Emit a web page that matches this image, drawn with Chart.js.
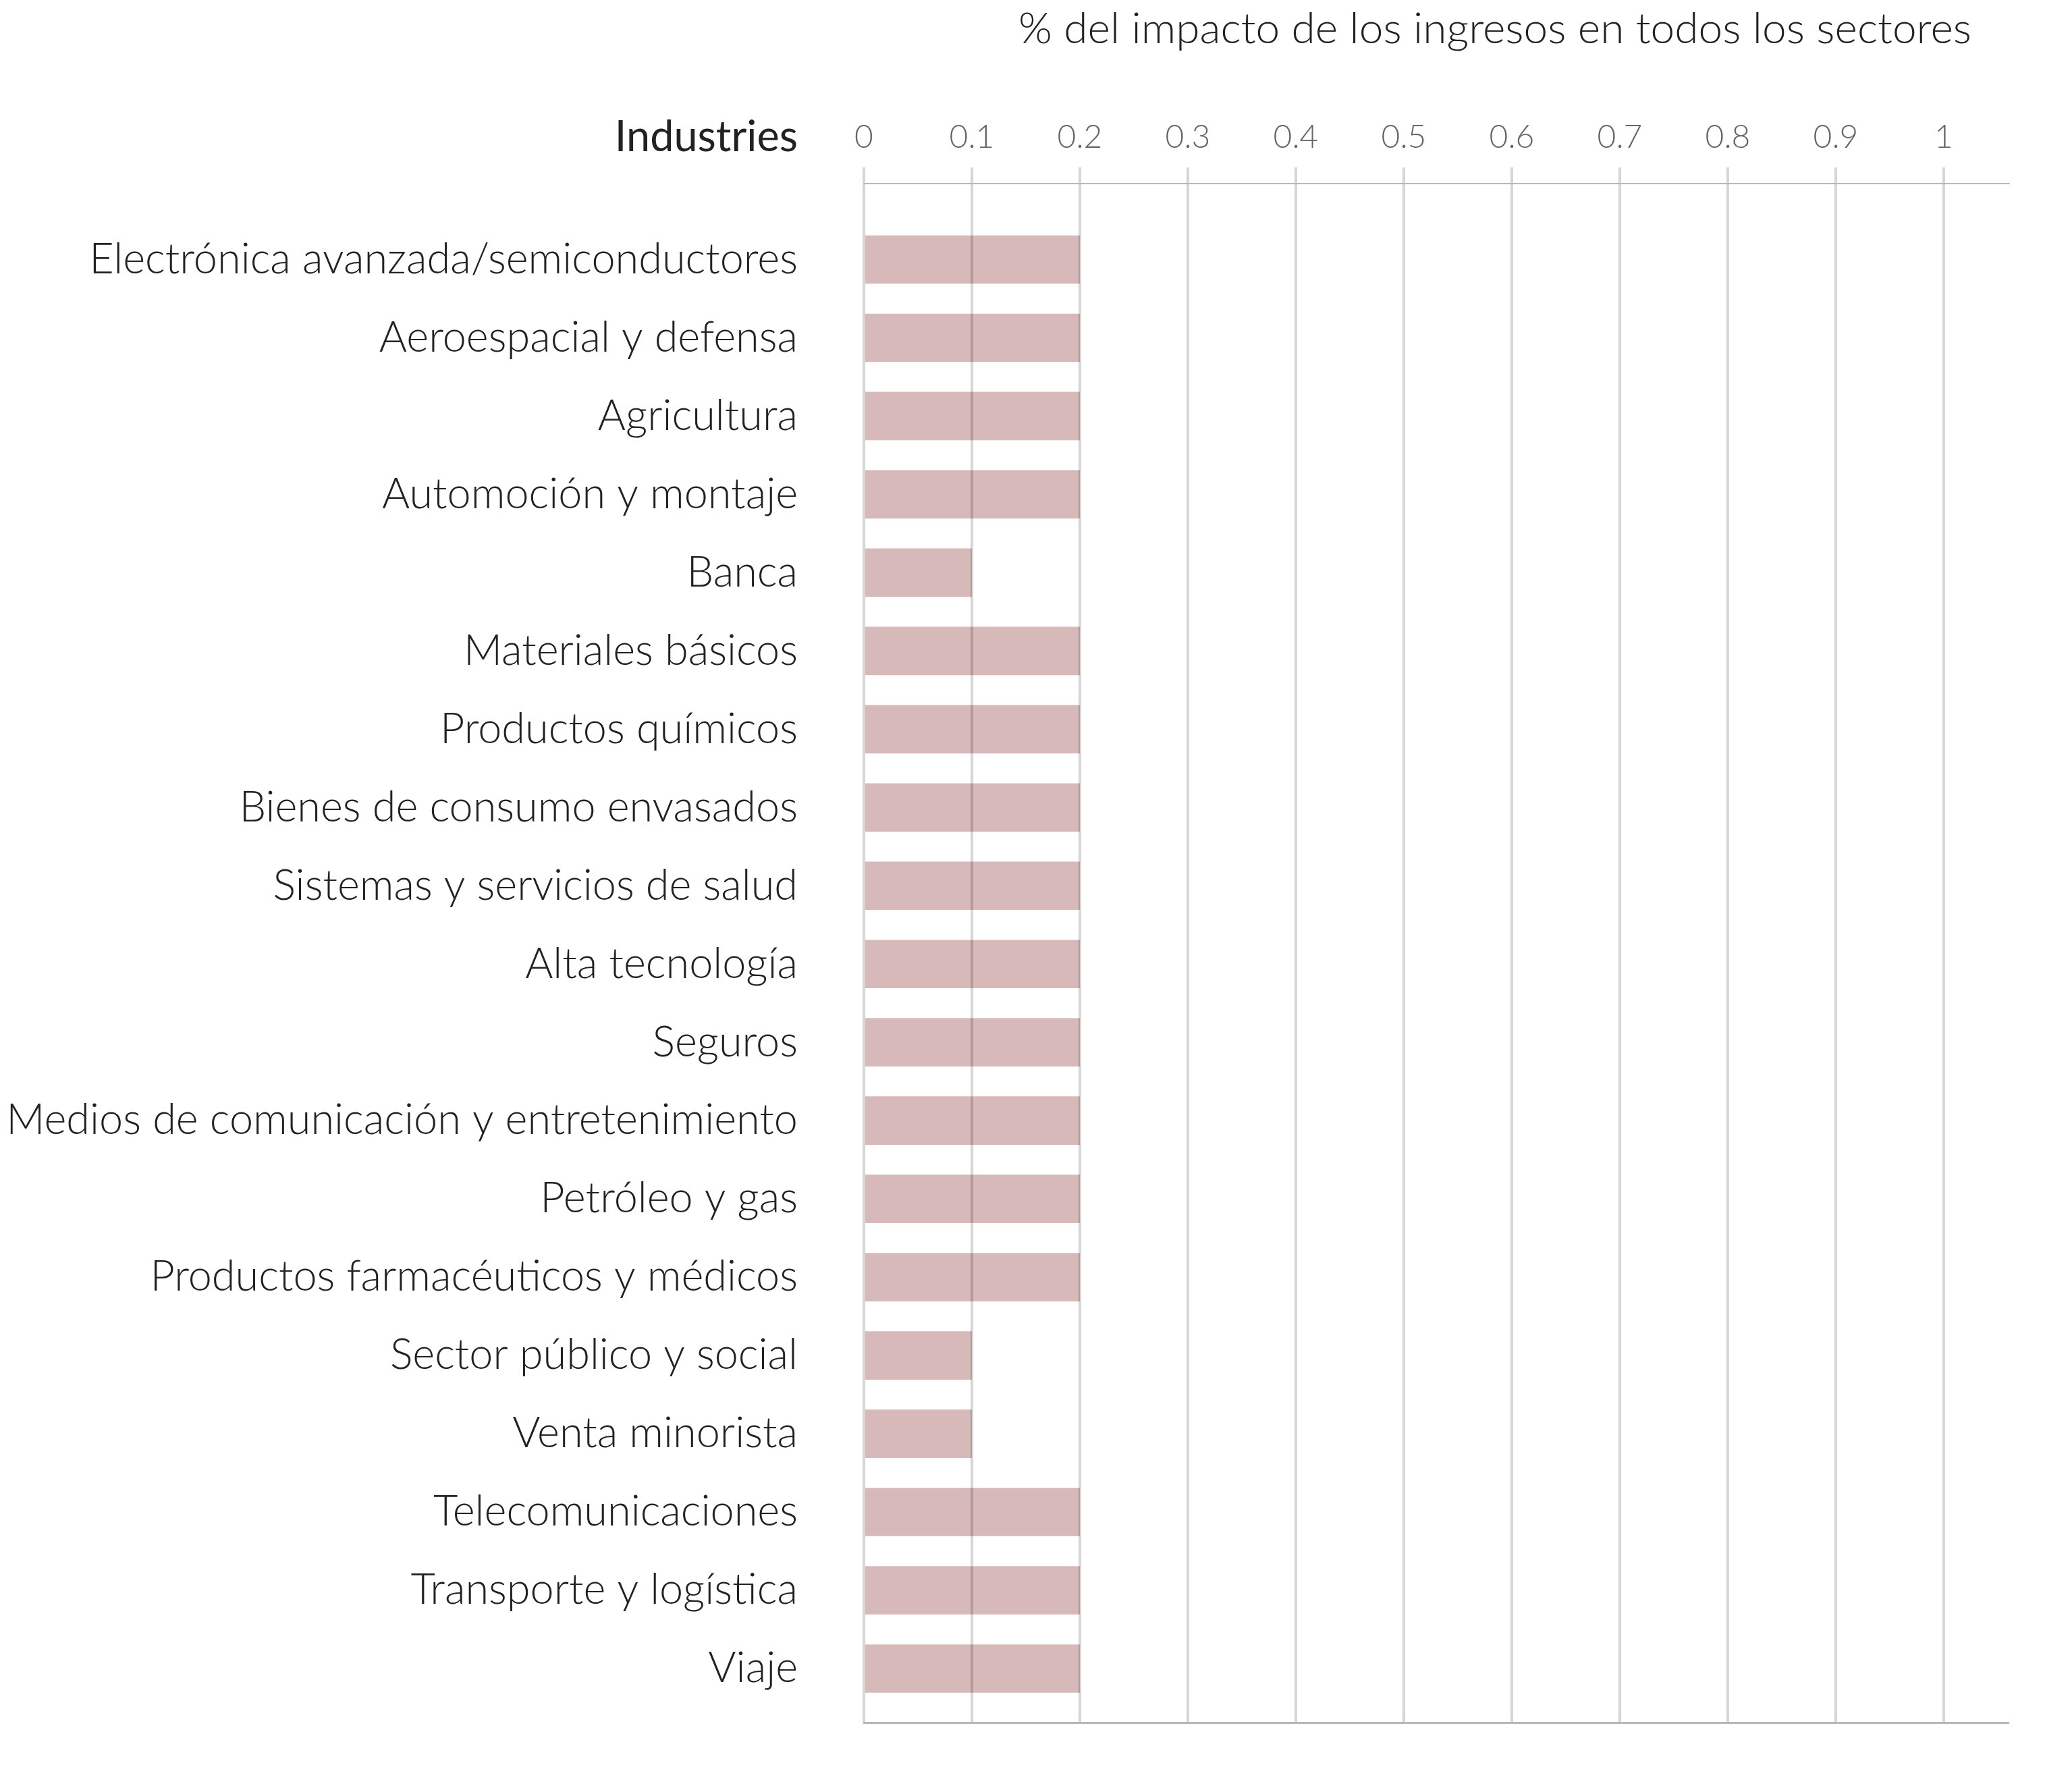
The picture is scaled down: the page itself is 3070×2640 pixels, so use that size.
<!DOCTYPE html>
<html>
<head>
<meta charset="utf-8">
<title>Impacto de los ingresos por sector</title>
<script src="https://cdn.jsdelivr.net/npm/chart.js@4.4.1/dist/chart.umd.min.js"></script>
<style>
  html, body { margin: 0; padding: 0; background: #fff; }
  #chart { display: block; }
</style>
</head>
<body>
<canvas id="chart" width="3070" height="2640"></canvas>
<script>
// ---- Data ----
const industries = [
    'Electrónica avanzada/semiconductores',
    'Aeroespacial y defensa',
    'Agricultura',
    'Automoción y montaje',
    'Banca',
    'Materiales básicos',
    'Productos químicos',
    'Bienes de consumo envasados',
    'Sistemas y servicios de salud',
    'Alta tecnología',
    'Seguros',
    'Medios de comunicación y entretenimiento',
    'Petróleo y gas',
    'Productos farmacéuticos y médicos',
    'Sector público y social',
    'Venta minorista',
    'Telecomunicaciones',
    'Transporte y logística',
    'Viaje'
];
const impact = [0.2, 0.2, 0.2, 0.2, 0.1, 0.2, 0.2, 0.2, 0.2, 0.2, 0.2, 0.2, 0.2, 0.2, 0.1, 0.1, 0.2, 0.2, 0.2];
const xTicks = [0, 0.1, 0.2, 0.3, 0.4, 0.5, 0.6, 0.7, 0.8, 0.9, 1];

const titleText = '% del impacto de los ingresos en todos los sectores';
const rowHeader = 'Industries';

const FONT = 'Lato, "Open Sans", sans-serif';
const GRID = 'rgba(0,0,0,0.16)';
const AXIS = '#b8b8b8';

// ---- Header texts (title + "Industries") ----
const headerText = {
    id: 'headerText',
    afterDraw(chart) {
        const ctx = chart.ctx;
        const y = chart.scales.y;
        ctx.save();
        ctx.fillStyle = '#222';
        ctx.textAlign = 'right';
        ctx.textBaseline = 'alphabetic';
        ctx.font = '300 64px ' + FONT;
        ctx.fillText(titleText, chart.chartArea.right - 55, 64);
        ctx.font = '400 63px ' + FONT;
        ctx.fillText(rowHeader, y.right - 98, 224);
        ctx.restore();
    }
};

// ---- Chart ----
new Chart(document.getElementById('chart'), {
    type: 'bar',
    data: {
        datasets: [{
            data: impact.map((v, i) => ({ x: v, y: i })),
            backgroundColor: '#d7b9b9',
            borderWidth: 0,
            categoryPercentage: 1,
            barPercentage: 0.618
        }]
    },
    options: {
        indexAxis: 'y',
        responsive: false,
        devicePixelRatio: 1,
        animation: false,
        layout: { padding: { top: 0, left: 0, bottom: 0, right: 94 } },
        plugins: {
            legend: { display: false },
            tooltip: { enabled: false }
        },
        scales: {
            x: {
                type: 'linear',
                position: 'top',
                min: 0,
                max: 1.06,
                afterFit: s => { s.height = 272; },
                afterBuildTicks: s => { s.ticks = xTicks.map(v => ({ value: v })); },
                // gridlines sit on top of the bars, as in the original
                grid: { z: 1, color: GRID, lineWidth: 4, tickLength: 24, tickColor: GRID },
                border: { z: 1, color: AXIS, width: 2 },
                ticks: {
                    color: '#666',
                    padding: 16,
                    font: { family: FONT, size: 48, weight: 300 },
                    callback: v => String(v)
                }
            },
            x2: {
                type: 'linear',
                axis: 'x',
                position: 'bottom',
                min: 0,
                max: 1.06,
                afterFit: s => { s.height = 88; },
                grid: { display: false, drawTicks: false },
                ticks: { display: false },
                border: { z: 1, color: AXIS, width: 3 }
            },
            y: {
                type: 'linear',
                reverse: true,
                offset: false,
                min: -0.97,
                max: 18.69,
                afterFit: s => { s.width = 1280; },
                afterBuildTicks: s => { s.ticks = industries.map((_, i) => ({ value: i })); },
                grid: { display: false, drawTicks: true, tickLength: 90 },
                border: { display: false },
                ticks: {
                    color: '#222',
                    padding: 8,
                    font: { family: FONT, size: 63, weight: 300 },
                    callback: v => industries[v]
                }
            }
        }
    },
    plugins: [headerText]
});
</script>
</body>
</html>
